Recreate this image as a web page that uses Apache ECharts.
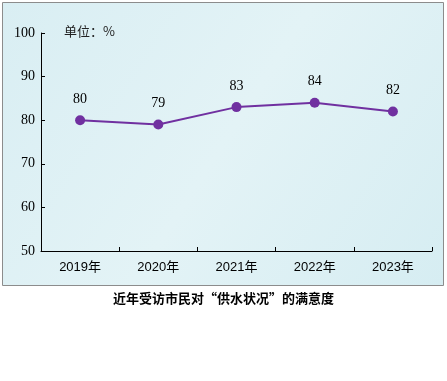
<!DOCTYPE html>
<html><head><meta charset="utf-8">
<script src="https://cdn.jsdelivr.net/npm/echarts@6/dist/echarts.min.js"></script>
<style>html,body{margin:0;padding:0;background:#fff}#c{width:447px;height:381px}</style>
</head><body><div id="c"></div>
<script>
const categories = ['2019年','2020年','2021年','2022年','2023年'];
const values = [80, 79, 83, 84, 82];
const yTicks = [50, 60, 70, 80, 90, 100];
const unitText = '单位：%';
const titleText = '近年受访市民对“供水状况”的满意度';

const chart = echarts.init(document.getElementById('c'));
const serif = '"Liberation Serif","Noto Sans CJK SC",serif';
const sans = '"Liberation Sans","Noto Sans CJK SC",sans-serif';
chart.setOption({
  animation: false,
  graphic: [
    {type:'rect', z:-10, shape:{x:2.5,y:2.5,width:441,height:283},
     style:{fill:new echarts.graphic.LinearGradient(0,0,1,1,[{offset:0,color:'#d9eef3'},{offset:0.5,color:'#e3f3f6'},{offset:1,color:'#d6edf2'}]), stroke:'#8c8c8c', lineWidth:1}},
    {type:'text', left:64, top:25, style:{text:unitText, font:'13px "Noto Sans CJK SC"', fill:'#222'}},
    {type:'text', left:'center', top:292, style:{text:titleText, font:'bold 13px "Noto Sans CJK SC"', fill:'#000'}}
  ],
  grid: {left:41, right:15, top:33, bottom:130},
  xAxis: [{
    type:'category', data:categories, boundaryGap:true, position:'bottom',
    axisLine:{lineStyle:{color:'#000', width:1}},
    axisTick:{show:false},
    axisLabel:{color:'#000', fontSize:13, fontFamily:sans, margin:10}
  },{
    type:'category', data:categories, boundaryGap:true, position:'bottom', offset:-4,
    axisLine:{show:false},
    axisTick:{show:true, length:4, lineStyle:{color:'#000'}},
    axisLabel:{show:false}
  }],
  yAxis: [{
    type:'value', min:50, max:100, interval:10, position:'left',
    axisLine:{show:true, lineStyle:{color:'#000', width:1}},
    axisTick:{show:false},
    axisLabel:{color:'#000', fontSize:14, fontFamily:serif, margin:6,
      formatter: v => yTicks.includes(v) ? String(v) : ''},
    splitLine:{show:false}
  },{
    type:'value', min:50, max:100, interval:10, position:'left', offset:-4,
    axisLine:{show:false},
    axisTick:{show:true, length:4, lineStyle:{color:'#000'}},
    axisLabel:{show:false},
    splitLine:{show:false}
  }],
  series: [{
    type:'line', data:values, symbol:'circle', symbolSize:10,
    lineStyle:{color:'#7030a0', width:2}, itemStyle:{color:'#7030a0'},
    label:{show:true, position:'top', distance:9, color:'#000', fontSize:14, fontFamily:serif}
  }]
});
</script></body></html>
